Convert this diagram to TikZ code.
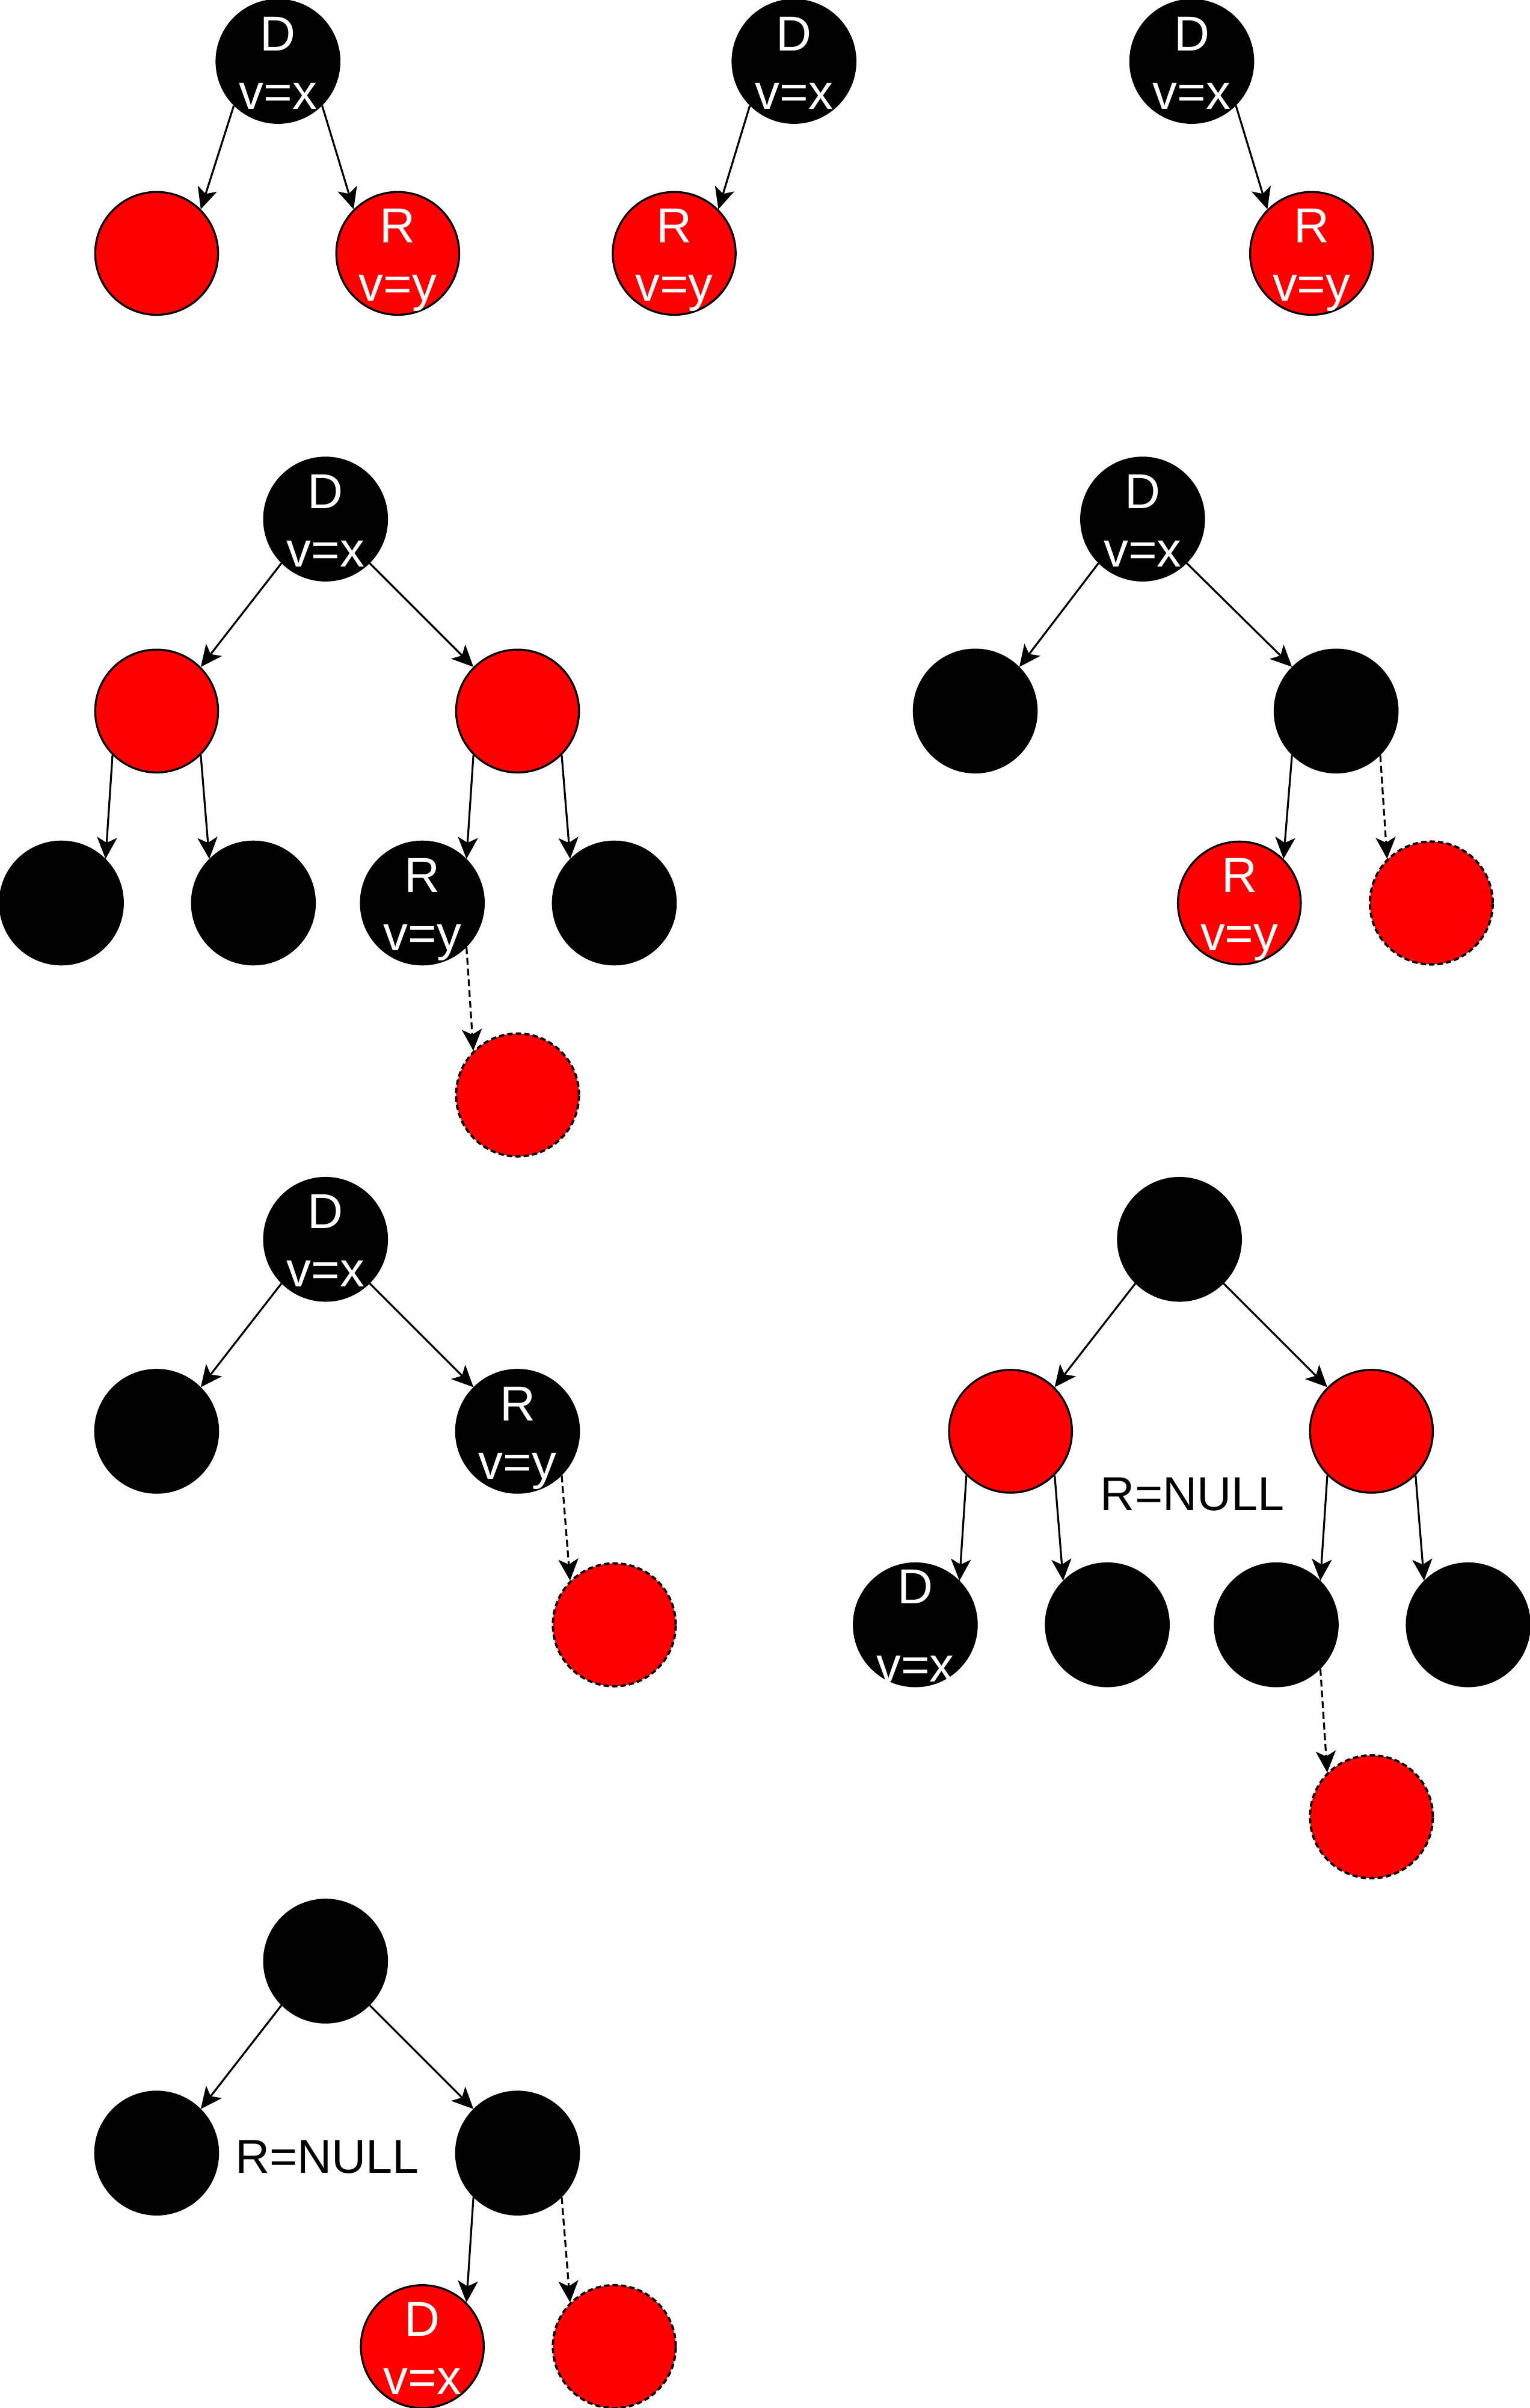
\documentclass[tikz,border=0pt]{standalone}
\usepackage{fontspec}
\setmainfont{Liberation Sans}
\usetikzlibrary{arrows.meta}
\definecolor{nred}{HTML}{FF0000}
\tikzset{
  cnode/.style={circle, minimum size=80pt, inner sep=0pt, line width=1.3pt},
  blk/.style={cnode, draw=black, fill=black},
  rd/.style={cnode, draw=black, fill=nred},
  rdd/.style={cnode, draw=black, fill=nred, line width=1.5pt, dash pattern=on 3.5pt off 2pt},
  wt/.style={text=white, anchor=base, inner sep=0pt, font=\fontsize{32pt}{38pt}\selectfont},
  bt/.style={text=black, anchor=base, inner sep=0pt, font=\fontsize{31pt}{37pt}\selectfont},
  edge/.style={line width=1.25pt, -{Stealth[length=14pt, width=13pt, inset=3.5pt]}},
  dedge/.style={edge, dash pattern=on 4.5pt off 2.5pt},
}
\newcommand{\twolab}[3]{%
  \node[wt] (#1t) at ([yshift=7pt]#1.center) {#2};
  \node[wt] (#1b) at ([yshift=-31pt]#1.center) {#3};}
\begin{document}
\begin{tikzpicture}[x=1pt, y=-1pt]
\useasboundingbox (0,0) rectangle (996,1568);
% ---------- group 1
\node[blk] (a) at (181,40) {};
\node[rd]  (b) at (102,165) {};
\node[rd]  (c) at (259,165) {};
\twolab{a}{D}{v=x}
\twolab{c}{R}{v=y}
\draw[edge] (a.225) -- (b.45);
\draw[edge] (a.-45) -- (c.135);
% ---------- group 2
\node[blk] (d) at (517,40) {};
\node[rd]  (e) at (439,165) {};
\twolab{d}{D}{v=x}
\twolab{e}{R}{v=y}
\draw[edge] (d.225) -- (e.45);
% ---------- group 3
\node[blk] (f) at (776,40) {};
\node[rd]  (g) at (854,165) {};
\twolab{f}{D}{v=x}
\twolab{g}{R}{v=y}
\draw[edge] (f.-45) -- (g.135);
% ---------- group 4
\node[blk] (h) at (212,338) {};
\node[rd]  (i) at (102,463) {};
\node[rd]  (j) at (337,463) {};
\node[blk] (k) at (40,588) {};
\node[blk] (l) at (165,588) {};
\node[blk] (m) at (275,588) {};
\node[blk] (n) at (400,588) {};
\node[rdd] (o) at (337,713) {};
\twolab{h}{D}{v=x}
\twolab{m}{R}{v=y}
\draw[edge] (h.225) -- (i.45);
\draw[edge] (h.-45) -- (j.135);
\draw[edge] (i.225) -- (k.45);
\draw[edge] (i.-45) -- (l.135);
\draw[edge] (j.225) -- (m.45);
\draw[edge] (j.-45) -- (n.135);
\draw[dedge] (m.-45) -- (o.135);
% ---------- group 5
\node[blk] (p) at (744,338) {};
\node[blk] (q) at (635,463) {};
\node[blk] (r) at (870,463) {};
\node[rd]  (s) at (807,588) {};
\node[rdd] (t) at (932,588) {};
\twolab{p}{D}{v=x}
\twolab{s}{R}{v=y}
\draw[edge] (p.225) -- (q.45);
\draw[edge] (p.-45) -- (r.135);
\draw[edge] (r.225) -- (s.45);
\draw[dedge] (r.-45) -- (t.135);
% ---------- group 6
\node[blk] (u) at (212,807) {};
\node[blk] (v) at (102,932) {};
\node[blk] (w) at (337,932) {};
\node[rdd] (x) at (400,1058) {};
\twolab{u}{D}{v=x}
\twolab{w}{R}{v=y}
\draw[edge] (u.225) -- (v.45);
\draw[edge] (u.-45) -- (w.135);
\draw[dedge] (w.-45) -- (x.135);
% ---------- group 7
\node[blk] (y) at (768,807) {};
\node[rd]  (z) at (658,932) {};
\node[rd]  (aa) at (893,932) {};
\node[blk] (ab) at (596,1058) {};
\node[blk] (ac) at (721,1058) {};
\node[blk] (ad) at (831,1058) {};
\node[blk] (ae) at (956,1058) {};
\node[rdd] (af) at (893,1183) {};
\node[wt] (abt) at ([yshift=13.6pt]ab.center) {D};
\node[wt] (abb) at ([yshift=-37pt]ab.center) {v=x};
\node[bt] (null1) at (776.5,983.4) {R=NULL};
\draw[edge] (y.225) -- (z.45);
\draw[edge] (y.-45) -- (aa.135);
\draw[edge] (z.225) -- (ab.45);
\draw[edge] (z.-45) -- (ac.135);
\draw[edge] (aa.225) -- (ad.45);
\draw[edge] (aa.-45) -- (ae.135);
\draw[dedge] (ad.-45) -- (af.135);
% ---------- group 8
\node[blk] (ag) at (212,1277) {};
\node[blk] (ah) at (102,1402) {};
\node[blk] (ai) at (337,1402) {};
\node[rd]  (aj) at (275,1528) {};
\node[rdd] (ak) at (400,1528) {};
\twolab{aj}{D}{v=x}
\node[bt] (null2) at (213,1415) {R=NULL};
\draw[edge] (ag.225) -- (ah.45);
\draw[edge] (ag.-45) -- (ai.135);
\draw[edge] (ai.225) -- (aj.45);
\draw[dedge] (ai.-45) -- (ak.135);
\end{tikzpicture}
\end{document}
